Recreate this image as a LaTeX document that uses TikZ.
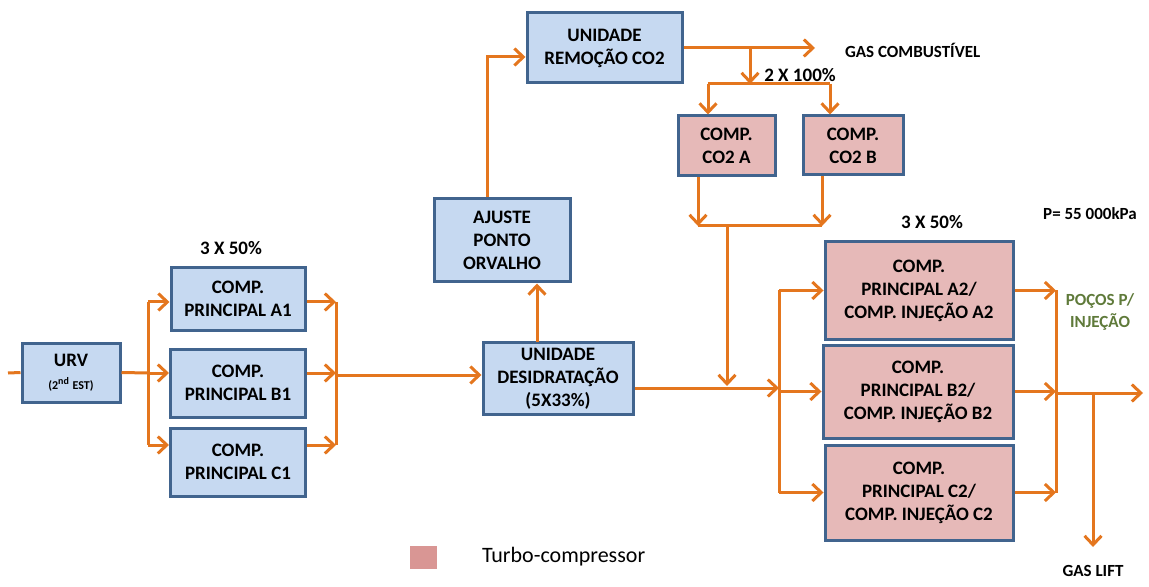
\documentclass[tikz,border=0pt]{standalone}
\usepackage{fontspec}
\setmainfont{Carlito}
\usetikzlibrary{arrows.meta,positioning}
\definecolor{laranja}{RGB}{228,118,30}
\definecolor{azulfundo}{RGB}{198,217,241}
\definecolor{azulborda}{RGB}{65,100,142}
\definecolor{rosa}{RGB}{230,185,184}
\definecolor{rosaleg}{RGB}{217,150,148}
\definecolor{verde}{RGB}{95,122,58}
\begin{document}
\begin{tikzpicture}[x=0.5pt, y=-0.5pt,
    caixa/.style={draw=azulborda, line width=1.5pt, fill=azulfundo, align=center,
        inner sep=0pt, font=\bfseries\fontsize{9.5}{11.5}\selectfont},
    turbo/.style={caixa, fill=rosa},
    linha/.style={draw=laranja, line width=1.5pt},
    fluxo/.style={linha, -{Straight Barb[length=4.5pt,width=8.5pt]}},
    rotulo/.style={font=\bfseries\fontsize{8.5}{11}\selectfont, align=center},
    titulo/.style={font=\bfseries\fontsize{9.5}{11}\selectfont}]
    \useasboundingbox (0,0) rectangle (1149,587);

    % Primeiro estagio
    \node[caixa, minimum width=49pt, minimum height=29.5pt] (urv) at (71,372.5)
        {URV\\{\fontsize{6}{7}\selectfont(2\textsuperscript{nd} EST)}};
    \node[caixa, minimum width=67pt, minimum height=31pt] (a1) at (238,299) {COMP.\\PRINCIPAL A1};
    \node[caixa, minimum width=67.5pt, minimum height=34pt] (b1) at (238,383) {COMP.\\PRINCIPAL B1};
    \node[caixa, minimum width=67.5pt, minimum height=34pt] (c1) at (238,462) {COMP.\\PRINCIPAL C1};
    \node[titulo] (tres1) at (231,248) {3 X 50\%};

    % Tratamento
    \node[caixa, minimum width=75pt, minimum height=36pt] (desid) at (558,378.5)
        {UNIDADE\\DESIDRATAÇÃO\\(5X33\%)};
    \node[caixa, minimum width=68pt, minimum height=41.5pt] (ajuste) at (502,240.5)
        {AJUSTE\\PONTO\\ORVALHO};
    \node[caixa, minimum width=77.5pt, minimum height=35pt] (remocao) at (604.5,48)
        {UNIDADE\\REMOÇÃO CO2};

    % Compressores CO2
    \node[turbo, minimum width=48.5pt, minimum height=30pt] (co2a) at (726.5,146) {COMP.\\CO2 A};
    \node[turbo, minimum width=50pt, minimum height=29.5pt] (co2b) at (853,145.5) {COMP.\\CO2 B};
    \node[titulo] (dois) at (800,75) {2 X 100\%};

    % Segundo estagio
    \node[turbo, minimum width=94pt, minimum height=48.5pt] (a2) at (919,290.5)
        {COMP.\\PRINCIPAL A2/\\COMP. INJEÇÃO A2};
    \node[turbo, minimum width=95pt, minimum height=46.5pt] (b2) at (918,391.5)
        {COMP.\\PRINCIPAL B2/\\COMP. INJEÇÃO B2};
    \node[turbo, minimum width=94pt, minimum height=47.5pt] (c2) at (919,492.5)
        {COMP.\\PRINCIPAL C2/\\COMP. INJEÇÃO C2};
    \node[titulo] (tres2) at (932,222) {3 X 50\%};
    \node[rotulo] (pressao) at (1090,214) {P= 55 000kPa};

    % Saidas
    \node[rotulo, anchor=west] (gascomb) at (838,50) {GAS COMBUSTÍVEL};
    \node[rotulo, text=verde] (pocos) at (1100,312) {POÇOS P/\\INJEÇÃO};
    \node[rotulo] (gaslift) at (1093,571) {GAS LIFT};

    % Legenda
    \node[fill=rosaleg, minimum width=13.5pt, minimum height=11.5pt, inner sep=0pt] (leg) at (423.5,557.5) {};
    \node[anchor=west, font=\fontsize{11}{13}\selectfont] (legtxt) at (475,557) {Turbo-compressor};

    % Pontos de ligacao
    \coordinate (entrada) at (8,373);
    \coordinate (s1) at (148,373);
    \coordinate (s1a) at (148,302);
    \coordinate (s1c) at (148,445);
    \coordinate (m1) at (336,375);
    \coordinate (m1a) at (336,302);
    \coordinate (m1c) at (336,445);
    \coordinate (orv) at (537,342);
    \coordinate (sobe) at (487,57);
    \coordinate (gc) at (815,48);
    \coordinate (r1) at (750,48);
    \coordinate (r2) at (750,84);
    \coordinate (r2a) at (708,84);
    \coordinate (r2b) at (830,84);
    \coordinate (j1) at (698,226);
    \coordinate (j2) at (822,226);
    \coordinate (j3) at (727,226);
    \coordinate (j4) at (727,386);
    \coordinate (s2) at (779,388);
    \coordinate (m2) at (1056,393);
    \coordinate (saida) at (1143,393);
    \coordinate (gl1) at (1093,393);
    \coordinate (gl2) at (1093,547);

    % Linhas do primeiro estagio
    \draw[linha] (entrada) -- (urv.west);
    \draw[linha] (urv.east) -- (s1);
    \draw[linha] (s1a) -- (s1c);
    \draw[fluxo] (s1a) -- (s1a -| a1.west);
    \draw[fluxo] (s1) -- (s1 -| b1.west);
    \draw[fluxo] (s1c) -- (s1c -| c1.west);
    \draw[fluxo] (m1a -| a1.east) -- (m1a);
    \draw[fluxo] (s1 -| b1.east) -- (m1 |- s1);
    \draw[fluxo] (m1c -| c1.east) -- (m1c);
    \draw[linha] (m1a) -- (m1c);
    \draw[fluxo] (m1) -- (m1 -| desid.west);

    % Linhas do tratamento
    \draw[fluxo] (orv) -- (orv |- ajuste.south);
    \draw[fluxo] (sobe |- ajuste.north) -- (sobe) -- (sobe -| remocao.west);
    \draw[fluxo] (remocao.east) -- (gc);
    \draw[fluxo] (r1) -- (r2);
    \draw[linha] (r2a) -- (r2b);
    \draw[fluxo] (r2a) -- (r2a |- co2a.north);
    \draw[fluxo] (r2b) -- (r2b |- co2b.north);
    \draw[fluxo] (j1 |- co2a.south) -- (j1);
    \draw[fluxo] (j2 |- co2b.south) -- (j2);
    \draw[linha] (j1) -- (j2);
    \draw[fluxo] (j3) -- (j4);

    % Linhas do segundo estagio
    \draw[fluxo] (s2 -| desid.east) -- (s2);
    \draw[linha] (a2.west -| s2) -- (c2.west -| s2);
    \draw[fluxo] (a2.west -| s2) -- (a2.west);
    \draw[fluxo] (b2.west -| s2) -- (b2.west);
    \draw[fluxo] (c2.west -| s2) -- (c2.west);
    \draw[fluxo] (a2.east) -- (a2.east -| m2);
    \draw[fluxo] (b2.east) -- (b2.east -| m2);
    \draw[fluxo] (c2.east) -- (c2.east -| m2);
    \draw[linha] (a2.east -| m2) -- (c2.east -| m2);
    \draw[fluxo] (m2) -- (saida);
    \draw[fluxo] (gl1) -- (gl2);
\end{tikzpicture}
\end{document}
